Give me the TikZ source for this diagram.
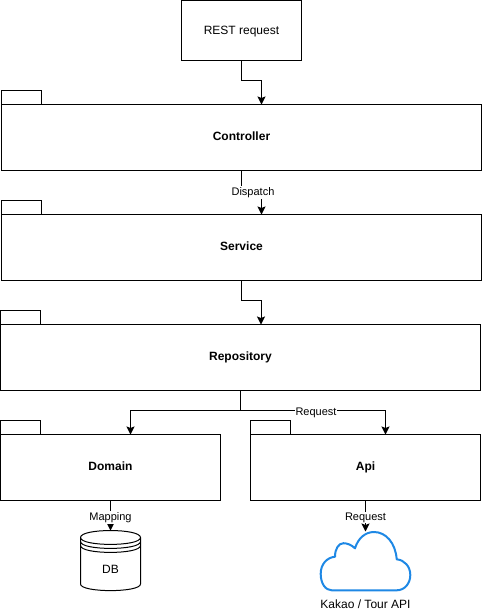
\documentclass[tikz,border=0pt]{standalone}
\usepackage{fontspec}
\setmainfont{Liberation Sans}
\usetikzlibrary{arrows.meta}
\tikzset{
  every node/.style={font=\fontsize{12}{14}\selectfont},
  boxline/.style={draw=black,line width=1pt,fill=white},
  plain box/.style={boxline,rectangle,inner sep=0pt,outer sep=0pt,minimum width=120pt,minimum height=60pt,text height=9pt,text depth=1pt},
  pkg/.style={boxline,rectangle,inner sep=0pt,outer sep=0pt,minimum height=66pt,text height=9pt,text depth=3pt,
    font=\fontsize{12}{14}\selectfont\bfseries},
  pkgtab/.style={boxline,rectangle,inner sep=0pt,outer sep=0pt,minimum width=40pt,minimum height=14pt},
  conn/.style={draw=black,line width=1pt,-{Stealth[length=8pt,width=8pt,inset=1.5pt]}},
  edgelabel/.style={fill=white,inner sep=1pt,font=\fontsize{11}{13}\selectfont},
}
\begin{document}
\begin{tikzpicture}[x=1pt,y=-1pt]
\useasboundingbox (0,0) rectangle (482,611);
% boxes
\node[plain box] (rest) at (241.5,30.5) {REST request};
\node[pkg,minimum width=480pt] (ctrl) at (241.5,137.5) {Controller};
\node[pkgtab,anchor=south west] (ctrltab) at (ctrl.north west) {};
\node[pkg,minimum width=480pt] (svc) at (241.5,247.5) {Service};
\node[pkgtab,anchor=south west] (svctab) at (svc.north west) {};
\node[pkg,minimum width=480pt] (repo) at (240.5,357.5) {Repository};
\node[pkgtab,anchor=south west] (repotab) at (repo.north west) {};
\node[pkg,minimum width=220pt] (dom) at (110.5,467.5) {Domain};
\node[pkgtab,anchor=south west] (domtab) at (dom.north west) {};
\node[pkg,minimum width=230pt] (api) at (365.5,467.5) {Api};
\node[pkgtab,anchor=south west] (apitab) at (api.north west) {};
% connector ends
\coordinate (ctrlin) at (261.5,104.5);
\coordinate (svcin) at (261.5,214.5);
\coordinate (repoin) at (261,324.5);
\coordinate (domin) at (130.5,434.5);
\coordinate (apiin) at (385.5,434.5);
% database
\coordinate (dbtop) at (110.5,530.5);
\draw[boxline] (80.5,537.5) .. controls (80.5,528.2) and (140.5,528.2) .. (140.5,537.5)
  -- (140.5,584) .. controls (140.5,592.8) and (80.5,592.8) .. (80.5,584) -- cycle;
\draw[draw=black,line width=1pt] (80.5,537.5) .. controls (80.5,546.7) and (140.5,546.7) .. (140.5,537.5);
\draw[draw=black,line width=1pt] (80.5,541.5) .. controls (80.5,550.7) and (140.5,550.7) .. (140.5,541.5);
\draw[draw=black,line width=1pt] (80.5,545.5) .. controls (80.5,554.7) and (140.5,554.7) .. (140.5,545.5);
\node (db) at (110.5,569.5) {DB};
% cloud
\coordinate (cloudtop) at (365.5,531.5);
\definecolor{cloudblue}{HTML}{1E88E5}
\draw[draw=cloudblue,line width=2pt,fill=white,line join=round]
  (331.7,590.3) -- (396.7,590.3)
  .. controls (405,590.3) and (410.3,583) .. (410.3,575)
  .. controls (410.3,566.5) and (404.5,560) .. (396.7,559.3)
  .. controls (395.5,543) and (386,532) .. (374,532)
  .. controls (365,532) and (358,538.5) .. (355,548.3)
  .. controls (351.5,544.8) and (347,543.2) .. (343.5,543.2)
  .. controls (338.5,543.2) and (335,549) .. (335,556.7)
  .. controls (327,557.5) and (320.7,564) .. (320.7,573.8)
  .. controls (320.7,583.5) and (325.5,590.3) .. (331.7,590.3) -- cycle;
\node (cloudlabel) at (365.5,604) {Kakao / Tour API};
% connectors
\draw[conn] (rest.south) -- ++(0,20) -| (ctrlin);
\draw[conn] (ctrl.south) -- ++(0,20) -| (svcin);
\node[edgelabel] (l1) at (253,192.5) {Dispatch};
\draw[conn] (svc.south) -- ++(0,20) -| (repoin);
\draw[conn] (repo.south) -- ++(0,20) -| (domin);
\draw[conn] (repo.south) -- ++(0,20) -| (apiin);
\node[edgelabel] (l2) at (316,412.5) {Request};
\draw[conn] (dom.south) -- (dbtop);
\node[edgelabel] (l3) at (110.5,517.5) {Mapping};
\draw[conn] (api.south) -- (cloudtop);
\node[edgelabel] (l4) at (365.5,517.5) {Request};
\end{tikzpicture}
\end{document}
